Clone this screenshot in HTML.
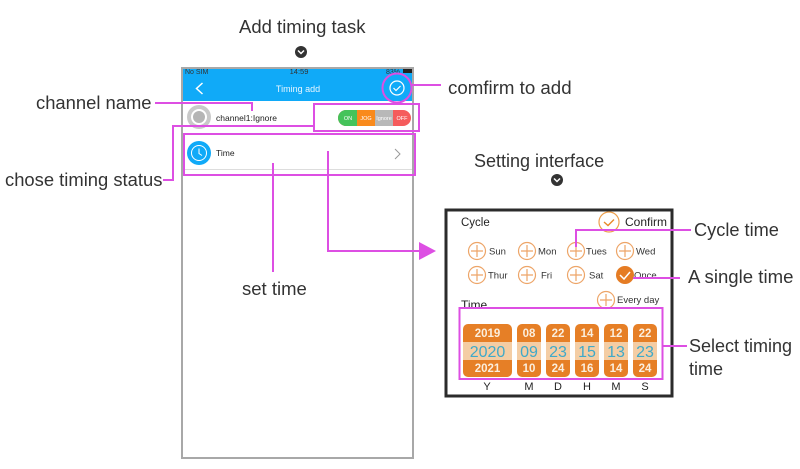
<!DOCTYPE html>
<html><head><meta charset="utf-8"><style>
html,body{margin:0;padding:0;background:#fff}
svg{display:block}
text{font-family:"Liberation Sans",sans-serif}
</style></head><body>
<svg width="800" height="469" viewBox="0 0 800 469" xmlns="http://www.w3.org/2000/svg">
<rect width="800" height="469" fill="#fff"/>
<!-- phone -->
<rect x="182" y="68" width="231" height="390" fill="#fff" stroke="#a8a8a8" stroke-width="2"/>
<rect x="183" y="69" width="229" height="32" fill="#10aaf8"/>
<text x="185" y="74" font-size="7" fill="#333">No SIM</text>
<text x="299" y="74" font-size="7.500" fill="#333" text-anchor="middle">14:59</text>
<text x="386" y="74" font-size="7" fill="#333">83%</text>
<rect x="403" y="69" width="9" height="4" fill="#222"/>
<path d="M202.500 83l-6 5.500 6 5.500" fill="none" stroke="#fff" stroke-width="1.500"/>
<text x="298" y="92" font-size="9" fill="#e8f6ff" text-anchor="middle">Timing add</text>
<circle cx="397" cy="88" r="7" fill="none" stroke="#fff" stroke-width="1.200"/>
<path d="M393.500 88l2.500 2.500 4.500-4.500" fill="none" stroke="#fff" stroke-width="1.200"/>
<circle cx="199" cy="117" r="12" fill="#c9c9c9"/>
<circle cx="199" cy="117" r="8" fill="#fff"/>
<circle cx="199" cy="117" r="6" fill="#b5b5b5"/>
<text x="216" y="121" font-size="8.500" fill="#222">channel1:Ignore</text>
<rect x="338" y="110" width="73" height="16" rx="8" fill="#f55c5c"/>
<path d="M346 110h12v16h-12a8 8 0 0 1 0-16z" fill="#45c35a"/>
<rect x="357" y="110" width="18" height="16" fill="#f98a1c"/>
<rect x="375" y="110" width="18" height="16" fill="#b8b8b8"/>
<g font-size="5.500" fill="#fff" text-anchor="middle"><text x="348" y="120">ON</text><text x="366" y="120">JOG</text><text x="384" y="120">Ignore</text><text x="402" y="120">OFF</text></g>
<circle cx="199" cy="153" r="12" fill="#10aaf8"/>
<circle cx="199" cy="153" r="7.500" fill="none" stroke="#fff" stroke-width="1"/>
<path d="M199 148.500v5l3 2" fill="none" stroke="#fff" stroke-width="1"/>
<text x="216" y="156" font-size="8.500" fill="#222">Time</text>
<path d="M395 149l5 5-5 5" fill="none" stroke="#999" stroke-width="1"/>
<line x1="183" y1="169.500" x2="412" y2="169.500" stroke="#ddd"/>
<!-- headings -->
<text x="239" y="33" font-size="18.500" fill="#333">Add timing task</text>
<circle cx="301" cy="52" r="6" fill="#333"/>
<path d="M298 50.500l3 3 3-3" fill="none" stroke="#fff" stroke-width="1.500"/>
<text x="474" y="167" font-size="18" fill="#333">Setting interface</text>
<circle cx="557" cy="180" r="6" fill="#333"/>
<path d="M554 178.500l3 3 3-3" fill="none" stroke="#fff" stroke-width="1.500"/>
<text x="36" y="109" font-size="18.400" fill="#333">channel name</text>
<text x="5" y="186" font-size="18.400" fill="#333">chose timing status</text>
<text x="242" y="295" font-size="18.500" fill="#333">set time</text>
<text x="448" y="94" font-size="18.700" fill="#333">comfirm to add</text>
<text x="694" y="236" font-size="18.200" fill="#333">Cycle time</text>
<text x="688" y="283" font-size="18.600" fill="#333">A single time</text>
<text x="689" y="352" font-size="18" fill="#333">Select timing</text>
<text x="689" y="375" font-size="18" fill="#333">time</text>
<!-- panel -->
<rect x="446" y="210" width="226" height="186" fill="#fff" stroke="#2b2b2b" stroke-width="3"/>
<text x="461" y="226" font-size="11.500" fill="#222">Cycle</text>
<text x="625" y="226" font-size="12" fill="#222">Confirm</text>
<circle cx="609" cy="222" r="10" fill="#fff" stroke="#eda04e" stroke-width="1.200"/>
<path d="M604 222l4 3.500 6-6" fill="none" stroke="#e8892a" stroke-width="1.400"/>
<g fill="none" stroke="#eda568" stroke-width="1.200">
<circle cx="477" cy="251" r="8.500"/><circle cx="527" cy="251" r="8.500"/><circle cx="576" cy="251" r="8.500"/><circle cx="625" cy="251" r="8.500"/>
<circle cx="477" cy="275" r="8.500"/><circle cx="527" cy="275" r="8.500"/><circle cx="576" cy="275" r="8.500"/><circle cx="606" cy="300" r="8.500"/>
<path d="M471 251h12M477 245v12M521 251h12M527 245v12M570 251h12M576 245v12M619 251h12M625 245v12M471 275h12M477 269v12M521 275h12M527 269v12M570 275h12M576 269v12M600 300h12M606 294v12"/>
</g>
<circle cx="625" cy="275" r="9" fill="#e57c24"/>
<path d="M620 275l4 4 6-7" fill="none" stroke="#fff" stroke-width="1.500"/>
<g font-size="9.500" fill="#333">
<text x="489" y="254.500">Sun</text><text x="538" y="254.500">Mon</text><text x="586" y="254.500">Tues</text><text x="636" y="254.500">Wed</text>
<text x="488" y="278.500">Thur</text><text x="541" y="278.500">Fri</text><text x="589" y="278.500">Sat</text><text x="634" y="278.500">Once</text>
<text x="617" y="303">Every day</text>
</g>
<text x="461" y="309" font-size="12" fill="#222">Time</text>
<!-- picker -->
<g fill="#e67f26">
<rect x="463" y="324" width="49" height="53" rx="5"/>
<rect x="517" y="324" width="24" height="53" rx="5"/>
<rect x="546" y="324" width="24" height="53" rx="5"/>
<rect x="575" y="324" width="24" height="53" rx="5"/>
<rect x="604" y="324" width="24" height="53" rx="5"/>
<rect x="633" y="324" width="24" height="53" rx="5"/>
</g>
<g fill="#f4cda4">
<rect x="463" y="342" width="49" height="18"/><rect x="517" y="342" width="24" height="18"/><rect x="546" y="342" width="24" height="18"/><rect x="575" y="342" width="24" height="18"/><rect x="604" y="342" width="24" height="18"/><rect x="633" y="342" width="24" height="18"/>
</g>
<g font-size="11.500" font-weight="bold" fill="#fbeedd" text-anchor="middle">
<text x="487.500" y="337">2019</text><text x="529" y="337">08</text><text x="558" y="337">22</text><text x="587" y="337">14</text><text x="616" y="337">12</text><text x="645" y="337">22</text>
<text x="487.500" y="372">2021</text><text x="529" y="372">10</text><text x="558" y="372">24</text><text x="587" y="372">16</text><text x="616" y="372">14</text><text x="645" y="372">24</text>
</g>
<g font-size="16" fill="#3fa9c9" text-anchor="middle">
<text x="487.500" y="357">2020</text><text x="529" y="357">09</text><text x="558" y="357">23</text><text x="587" y="357">15</text><text x="616" y="357">13</text><text x="645" y="357">23</text>
</g>
<g font-size="11" fill="#222" text-anchor="middle">
<text x="487" y="390">Y</text><text x="529" y="390">M</text><text x="558" y="390">D</text><text x="587" y="390">H</text><text x="616" y="390">M</text><text x="645" y="390">S</text>
</g>
<!-- magenta annotations -->
<g fill="none" stroke="#dd4fe3" stroke-width="2">
<circle cx="397" cy="88" r="14.500"/>
<path d="M412 85H441"/>
<path d="M155 103H252V111"/>
<rect x="314" y="104" width="105" height="27"/>
<path d="M314 126H173V180H163"/>
<rect x="184" y="134" width="231" height="41"/>
<path d="M273 163V272"/>
<path d="M328 151V251H421"/>
<rect x="459.500" y="308" width="203" height="71"/>
<path d="M663 346H687"/>
<path d="M576 247V230H691"/>
<path d="M633 278H680"/>
</g>
<path d="M419 242L436 251L419 260z" fill="#dd4fe3"/>
</svg>
</body></html>
